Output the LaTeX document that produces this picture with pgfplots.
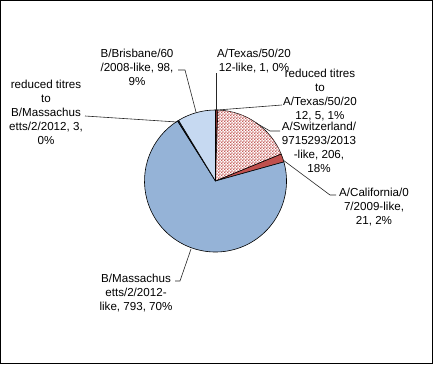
\documentclass[border=0pt]{standalone}
\usepackage{pgfplots}
\pgfplotsset{compat=1.18}
\usepackage{pgfplotstable}
\usetikzlibrary{patterns}
\usepackage{fontspec}
\setmainfont{Liberation Sans}
\definecolor{texA}{HTML}{1F3F6F}
\definecolor{redTA}{HTML}{943634}
\definecolor{cal}{HTML}{C0504D}
\definecolor{bmass}{HTML}{95B3D7}
\definecolor{redBM}{HTML}{1F3F6F}
\definecolor{bris}{HTML}{C6D9F1}
\pgfdeclarepatternformonly{finecheck}{\pgfpointorigin}{\pgfqpoint{2.8pt}{2.8pt}}{\pgfqpoint{2.8pt}{2.8pt}}{%
  \pgfpathrectangle{\pgfpointorigin}{\pgfqpoint{1.4pt}{1.4pt}}%
  \pgfpathrectangle{\pgfqpoint{1.4pt}{1.4pt}}{\pgfqpoint{1.4pt}{1.4pt}}%
  \pgfusepath{fill}}
\tikzset{
  s1/.style={fill=texA},
  s2/.style={fill=redTA},
  s3/.style={fill=white, postaction={pattern=finecheck, pattern color=cal!92}},
  s4/.style={fill=cal},
  s5/.style={fill=bmass},
  s6/.style={fill=redBM},
  s7/.style={fill=bris},
  lbl/.style={align=center, font=\fontsize{11.6}{14}\selectfont, inner sep=0pt},
  ld/.style={draw=black!85, line width=0.6pt},
}
\pgfplotstableread{
value style
1 s1
5 s2
206 s3
21 s4
793 s5
3 s6
98 s7
}\piedata
\begin{document}
\begin{tikzpicture}[x=1pt,y=1pt]
\begin{axis}[
  scale only axis, width=433pt, height=364pt,
  xmin=0, xmax=433, ymin=0, ymax=364,
  hide axis, clip=false, anchor=origin, at={(0,0)}]
  \pgfplotstablegetrowsof{\piedata}
  \pgfmathtruncatemacro\nrows{\pgfplotsretval-1}
  \def\total{0}
  \pgfplotsforeachungrouped \i in {0,...,\nrows}{%
    \pgfplotstablegetelem{\i}{value}\of\piedata
    \pgfmathsetmacro\total{\total+\pgfplotsretval}%
  }
  \def\angA{90}
  \pgfplotsforeachungrouped \i in {0,...,\nrows}{%
    \pgfplotstablegetelem{\i}{value}\of\piedata
    \pgfmathsetmacro\angB{\angA-(\pgfplotsretval/\total)*360}%
    \pgfplotstablegetelem{\i}{style}\of\piedata
    \let\col\pgfplotsretval
    \edef\doslice{\noexpand\filldraw[\col, draw=black, line width=0.6pt, line join=round] (axis cs:215.5,183) -- ++(\angA:71pt) arc[start angle=\angA, end angle=\angB, radius=71pt] -- cycle;}%
    \doslice
    \global\let\angA\angB
  }
  % leader lines
  \draw[ld] (axis cs:216,254) -- (axis cs:216,291);
  \draw[ld] (axis cs:217.5,254) -- (axis cs:282,259);
  \draw[ld] (axis cs:256,241) -- (axis cs:270,233) -- (axis cs:280,233);
  \draw[ld] (axis cs:283,204) -- (axis cs:330,169) -- (axis cs:336,169);
  \draw[ld] (axis cs:191,115) -- (axis cs:180,83) -- (axis cs:175,83);
  \draw[ld] (axis cs:177,242) -- (axis cs:85,248);
  \draw[ld] (axis cs:196,252) -- (axis cs:185,294) -- (axis cs:178,294);
  % labels
  \node[lbl] at (axis cs:254,303) {A/Texas/50/20\\12-like, 1, 0\%};
  \node[lbl] at (axis cs:320,269) {reduced titres\\to\\A/Texas/50/20\\12, 5, 1\%};
  \node[lbl] at (axis cs:319,217) {A/Switzerland/\\9715293/2013\\-like, 206,\\18\%};
  \node[lbl] at (axis cs:374,157) {A/California/0\\7/2009-like,\\21, 2\%};
  \node[lbl] at (axis cs:136,71) {B/Massachus\\etts/2/2012-\\like, 793, 70\%};
  \node[lbl] at (axis cs:46,252) {reduced titres\\to\\B/Massachus\\etts/2/2012, 3,\\0\%};
  \node[lbl] at (axis cs:137,297) {B/Brisbane/60\\/2008-like, 98,\\9\%};
  \draw[black, line width=1pt] (axis cs:0.5,0.5) rectangle (axis cs:432.5,363.5);
\end{axis}
\end{tikzpicture}
\end{document}
